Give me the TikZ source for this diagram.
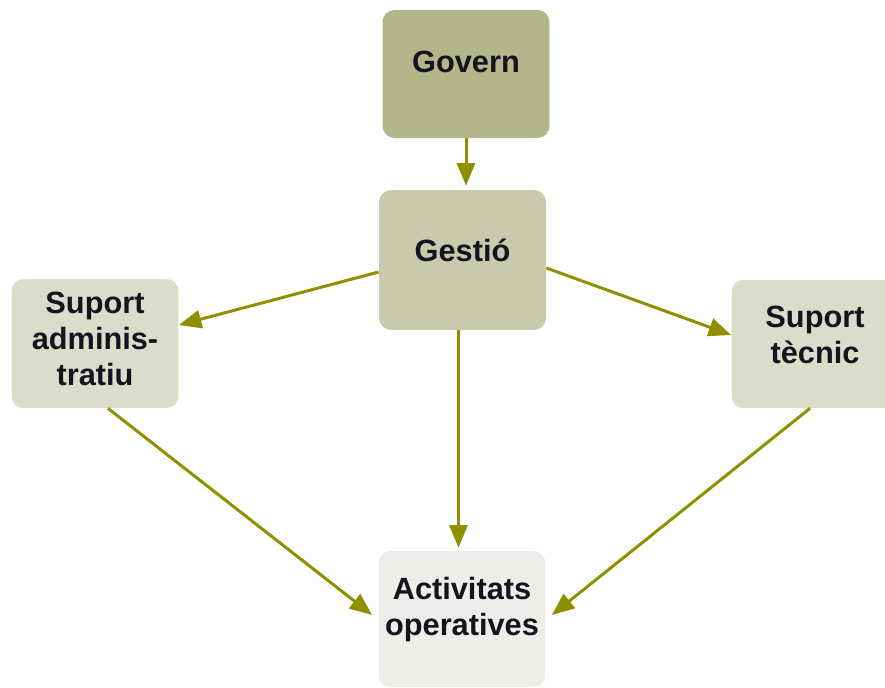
\documentclass[tikz,border=0pt]{standalone}
\usepackage{fontspec}
\setmainfont{Liberation Sans}
\usetikzlibrary{arrows.meta}
\definecolor{governcol}{HTML}{B5B58C}
\definecolor{gestiocol}{HTML}{C9C9AE}
\definecolor{suportcol}{HTML}{DCDCCB}
\definecolor{activcol}{HTML}{EEEEE8}
\definecolor{fletxacol}{HTML}{8F8F00}
\definecolor{textcol}{HTML}{14141E}

\begin{document}
\begin{tikzpicture}[x=0.02cm, y=-0.02cm,
  caixa/.style={rounded corners=0.24cm, minimum width=3.34cm, inner sep=0pt},
  rotul/.style={font=\fontsize{17.5}{20.5}\selectfont\bfseries, text=textcol, align=center, inner sep=0pt},
  fletxa/.style={draw=fletxacol, line width=1.7pt, -{Triangle[length=0.45cm,width=0.36cm,fill=fletxacol]}}]
  \useasboundingbox (0,0) rectangle (885,687);
  \node[caixa, fill=governcol, minimum height=2.56cm] (govern) at (466,74) {};
  \node[caixa, fill=gestiocol, minimum height=2.8cm] (gestio) at (462.5,260) {};
  \node[caixa, fill=suportcol, minimum height=2.58cm] (supadm) at (95,343.5) {};
  \node[caixa, fill=suportcol, minimum height=2.56cm] (suptec) at (815,344) {};
  \node[caixa, fill=activcol, minimum height=2.72cm] (activ) at (462,619) {};
  \node[rotul] (govern-text) at ([yshift=0.24cm]govern.center) {Govern};
  \node[rotul] (gestio-text) at ([yshift=0.2cm]gestio.center) {Gestió};
  \node[rotul] (supadm-text) at ([yshift=0.1cm]supadm.center) {Suport\\adminis-\\tratiu};
  \node[rotul] (suptec-text) at ([yshift=0.18cm]suptec.center) {Suport\\tècnic};
  \node[rotul] (activ-text) at ([yshift=0.18cm]activ.center) {Activitats\\operatives};
  \draw[fletxa, shorten >=0.08cm] (govern.south) -- (govern.south |- gestio.north);
  \draw[fletxa] ([yshift=-0.24cm]gestio.west) -- ([yshift=0.37cm]supadm.east);
  \draw[fletxa] ([yshift=-0.16cm]gestio.east) -- ([yshift=0.18cm]suptec.west);
  \draw[fletxa] ([xshift=-0.08cm]gestio.south) -- ([xshift=-0.08cm, yshift=0.06cm]gestio.south |- activ.north);
  \draw[fletxa] ([xshift=0.26cm]supadm.south) -- ([xshift=-0.12cm, yshift=0.08cm]activ.west);
  \draw[fletxa] ([xshift=-0.1cm]suptec.south) -- ([xshift=0.12cm, yshift=0.08cm]activ.east);
\end{tikzpicture}
\end{document}
